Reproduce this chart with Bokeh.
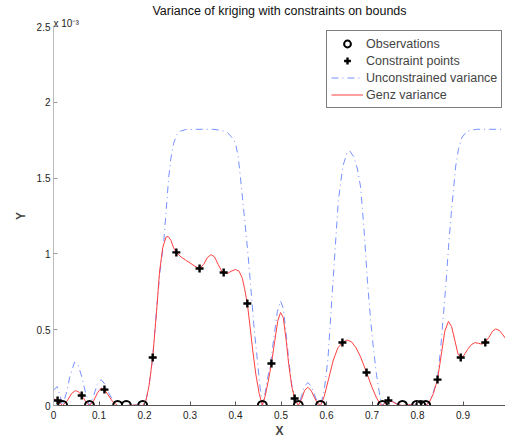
from bokeh.plotting import figure
from bokeh.models import Range1d, Legend, LegendItem, FixedTicker, Title
from bokeh.embed import file_html
from bokeh.resources import INLINE

FONT = "Liberation Sans"

# Observations (y = 0) and constraint points (values in units of 1e-3)
obs_x = [0.020, 0.079, 0.141, 0.160, 0.196, 0.459, 0.538, 0.587, 0.723, 0.767, 0.798, 0.807, 0.818]
obs_y = [0.0] * len(obs_x)
con_x = [0.009, 0.062, 0.112, 0.218, 0.270, 0.321, 0.374, 0.426, 0.479, 0.530, 0.635, 0.688, 0.736, 0.844, 0.895, 0.949]
con_y = [0.033, 0.066, 0.105, 0.317, 1.010, 0.904, 0.877, 0.673, 0.277, 0.046, 0.416, 0.218, 0.033, 0.171, 0.317, 0.416]

# Genz variance (red)
genz_x = [0.000, 0.009, 0.020, 0.030, 0.040, 0.048, 0.055, 0.062, 0.070, 0.079, 0.088, 0.097, 0.105, 0.112,
          0.120, 0.130, 0.141, 0.160, 0.180, 0.196, 0.203, 0.210, 0.218, 0.226, 0.233, 0.240, 0.247, 0.252,
          0.258, 0.264, 0.270, 0.280, 0.290, 0.300, 0.310, 0.321, 0.330, 0.338, 0.346, 0.354, 0.362, 0.370,
          0.374, 0.382, 0.390, 0.400, 0.408, 0.415, 0.420, 0.426, 0.432, 0.438, 0.445, 0.452, 0.459, 0.465,
          0.472, 0.479, 0.486, 0.493, 0.499, 0.505, 0.511, 0.517, 0.524, 0.530, 0.538, 0.545, 0.552, 0.559,
          0.566, 0.574, 0.580, 0.587, 0.595, 0.605, 0.615, 0.625, 0.635, 0.645, 0.655, 0.665, 0.675, 0.688,
          0.700, 0.710, 0.718, 0.723, 0.730, 0.736, 0.745, 0.755, 0.767, 0.780, 0.798, 0.807, 0.818, 0.826,
          0.835, 0.844, 0.852, 0.860, 0.868, 0.875, 0.882, 0.889, 0.895, 0.902, 0.910, 0.918, 0.926, 0.934,
          0.942, 0.949, 0.957, 0.965, 0.972, 0.980, 0.988, 0.995, 1.000]
genz_y = [0.045, 0.030, 0.000, 0.030, 0.080, 0.098, 0.090, 0.066, 0.030, 0.000, 0.030, 0.085, 0.115, 0.105,
          0.070, 0.025, 0.000, 0.000, 0.003, 0.000, 0.030, 0.130, 0.317, 0.600, 0.880, 1.040, 1.110, 1.115,
          1.090, 1.040, 1.010, 0.980, 0.960, 0.940, 0.920, 0.904, 0.930, 0.975, 0.995, 0.980, 0.930, 0.885,
          0.877, 0.870, 0.885, 0.897, 0.885, 0.840, 0.770, 0.673, 0.520, 0.360, 0.200, 0.080, 0.000, 0.060,
          0.160, 0.277, 0.420, 0.560, 0.613, 0.580, 0.440, 0.270, 0.120, 0.046, 0.000, 0.040, 0.100, 0.120,
          0.100, 0.050, 0.015, 0.000, 0.060, 0.180, 0.300, 0.380, 0.416, 0.432, 0.420, 0.380, 0.320, 0.218,
          0.120, 0.050, 0.010, 0.000, 0.020, 0.033, 0.025, 0.008, 0.000, 0.005, 0.000, 0.000, 0.000, 0.020,
          0.080, 0.171, 0.330, 0.490, 0.555, 0.520, 0.430, 0.340, 0.317, 0.330, 0.370, 0.400, 0.415, 0.410,
          0.405, 0.416, 0.450, 0.490, 0.505, 0.495, 0.465, 0.435, 0.420]

# Unconstrained variance (blue)
unc_x = [0.000, 0.008, 0.014, 0.020, 0.028, 0.036, 0.046, 0.054, 0.062, 0.070, 0.079, 0.088, 0.096, 0.105,
         0.113, 0.122, 0.132, 0.141, 0.160, 0.180, 0.196, 0.203, 0.210, 0.218, 0.226, 0.234, 0.242, 0.248,
         0.253, 0.258, 0.264, 0.271, 0.279, 0.290, 0.320, 0.350, 0.370, 0.382, 0.392, 0.400, 0.406, 0.411,
         0.416, 0.422, 0.428, 0.433, 0.440, 0.448, 0.454, 0.459, 0.465, 0.470, 0.477, 0.485, 0.492, 0.499,
         0.505, 0.511, 0.517, 0.524, 0.531, 0.538, 0.545, 0.552, 0.559, 0.566, 0.574, 0.580, 0.587, 0.595,
         0.603, 0.613, 0.626, 0.636, 0.645, 0.651, 0.660, 0.668, 0.675, 0.682, 0.690, 0.697, 0.703, 0.710,
         0.718, 0.723, 0.730, 0.736, 0.745, 0.755, 0.767, 0.785, 0.798, 0.807, 0.818, 0.826, 0.835, 0.844,
         0.851, 0.857, 0.863, 0.868, 0.874, 0.879, 0.884, 0.890, 0.898, 0.909, 0.930, 1.000]
unc_y = [0.100, 0.125, 0.070, 0.000, 0.080, 0.190, 0.285, 0.270, 0.190, 0.090, 0.000, 0.060, 0.140, 0.170,
         0.140, 0.080, 0.025, 0.000, 0.000, 0.005, 0.000, 0.030, 0.130, 0.317, 0.620, 0.880, 1.070, 1.300,
         1.500, 1.630, 1.730, 1.785, 1.810, 1.820, 1.822, 1.822, 1.815, 1.800, 1.770, 1.730, 1.640, 1.500,
         1.350, 1.170, 0.980, 0.800, 0.540, 0.300, 0.120, 0.000, 0.080, 0.170, 0.280, 0.460, 0.620, 0.690,
         0.640, 0.480, 0.300, 0.130, 0.050, 0.000, 0.060, 0.130, 0.150, 0.130, 0.070, 0.020, 0.000, 0.100,
         0.300, 0.760, 1.350, 1.580, 1.665, 1.680, 1.640, 1.560, 1.440, 1.180, 0.820, 0.560, 0.380, 0.200,
         0.050, 0.000, 0.025, 0.040, 0.030, 0.010, 0.000, 0.005, 0.000, 0.000, 0.000, 0.030, 0.090, 0.180,
         0.380, 0.600, 0.820, 1.040, 1.260, 1.420, 1.580, 1.690, 1.770, 1.810, 1.822, 1.822]

x_ticks = [0, 0.1, 0.2, 0.3, 0.4, 0.5, 0.6, 0.7, 0.8, 0.9]
y_ticks = [0, 0.5, 1, 1.5, 2, 2.5]
title_text = "Variance of kriging with constraints on bounds"
scale_text = "x 10\u207b\u00b3"
legend_labels = ["Observations", "Constraint points", "Unconstrained variance", "Genz variance"]

p = figure(width=505, height=440, output_backend="svg", toolbar_location=None, title=None,
           x_range=Range1d(0, 0.9934), y_range=Range1d(0, 2.5),
           min_border_left=53, min_border_right=0, min_border_top=26, min_border_bottom=35)
p.background_fill_color = "white"
p.border_fill_color = "white"
p.outline_line_color = None
p.xgrid.visible = False
p.ygrid.visible = False

# scale factor label (closest to frame), then main title above it
p.add_layout(Title(text=scale_text, align="left", text_font=FONT, text_font_size="10px",
                   text_font_style="normal", text_color="#222222", standoff=-4, offset=0), "above")
p.add_layout(Title(text=title_text, align="center", text_font=FONT, text_font_size="12.5px",
                   text_font_style="normal", text_color="#111111", standoff=0), "above")

for ax, ticks in ((p.xaxis[0], x_ticks), (p.yaxis[0], y_ticks)):
    ax.ticker = FixedTicker(ticks=ticks)
    ax.minor_tick_line_color = None
    ax.major_tick_in = 4
    ax.major_tick_out = 0
    ax.major_label_text_font = FONT
    ax.major_label_text_font_size = "10px"
    ax.major_label_text_color = "#222222"
    ax.axis_label_text_font = FONT
    ax.axis_label_text_font_size = "12px"
    ax.axis_label_text_font_style = "bold"

p.xaxis.axis_label = "X"
p.yaxis.axis_label = "Y"
p.xaxis.axis_line_color = "#555555"
p.xaxis.major_tick_line_color = "#555555"
p.yaxis.axis_line_color = "#bbbbbb"
p.yaxis.major_tick_line_color = "#999999"
p.xaxis.major_label_standoff = 5
p.xaxis.axis_label_standoff = 2
p.yaxis.major_label_standoff = 3
p.yaxis.axis_label_standoff = 6
p.yaxis.major_label_overrides = {0: "0", 0.5: "0.5", 1: "1", 1.5: "1.5", 2: "2", 2.5: "2.5"}
p.xaxis.major_label_overrides = {0: "0"}

r_unc = p.line(unc_x, unc_y, line_color="#5f7dff", line_width=1, line_dash="7 4 1 4", line_alpha=0.85)
r_genz = p.line(genz_x, genz_y, line_color="#ff4040", line_width=1)
r_obs = p.scatter(obs_x, obs_y, marker="circle", size=9, fill_color=None, line_color="black", line_width=2)
r_con = p.scatter(con_x, con_y, marker="cross", size=8, line_color="black", line_width=2.4)

legend = Legend(items=[LegendItem(label=legend_labels[0], renderers=[r_obs]),
                       LegendItem(label=legend_labels[1], renderers=[r_con]),
                       LegendItem(label=legend_labels[2], renderers=[r_unc]),
                       LegendItem(label=legend_labels[3], renderers=[r_genz])],
                location=(273, 297), orientation="vertical")
legend.label_text_font = FONT
legend.label_text_font_size = "12.5px"
legend.label_standoff = 3
legend.glyph_width = 32
legend.glyph_height = 17
legend.label_height = 17
legend.spacing = 0
legend.padding = 4
legend.margin = 0
legend.border_line_color = "black"
legend.border_line_width = 1
legend.background_fill_alpha = 1.0
p.add_layout(legend, "center")

open("out.html", "w").write(file_html(p, INLINE))
